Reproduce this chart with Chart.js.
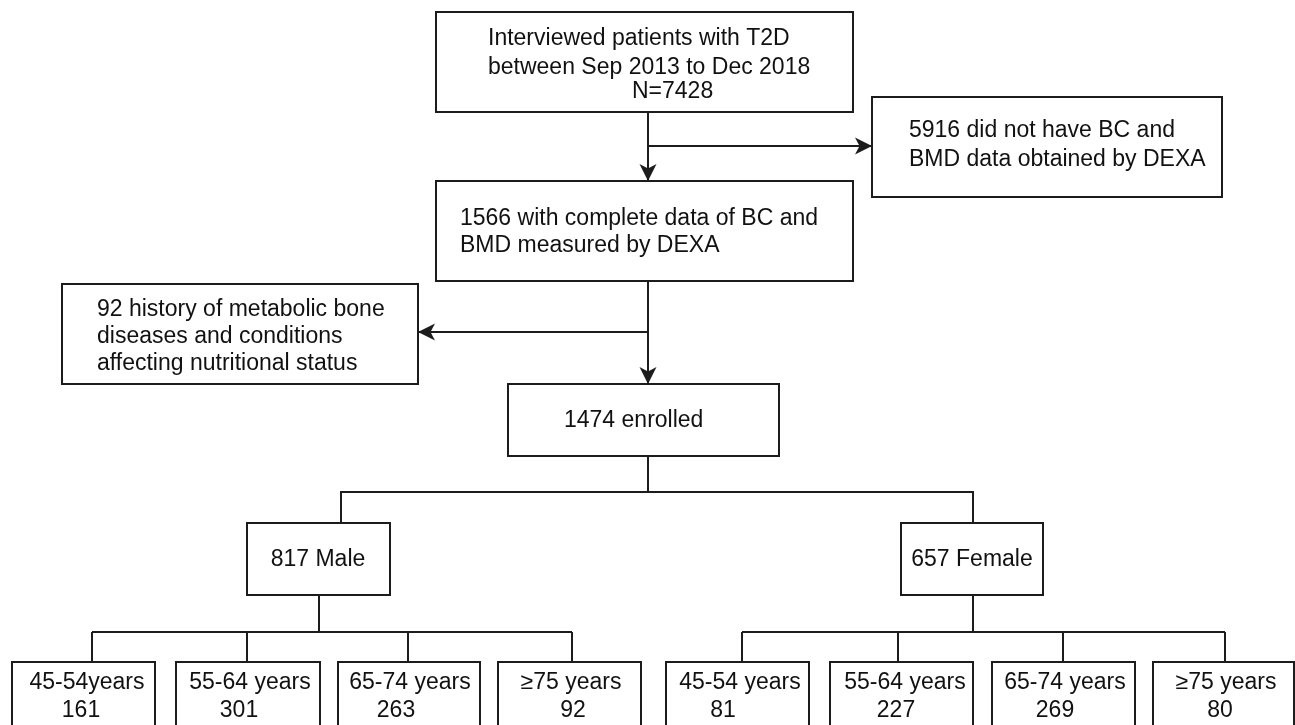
<!DOCTYPE html>
<html>
<head>
<meta charset="utf-8">
<script src="https://cdn.jsdelivr.net/npm/chart.js@4.4.1/dist/chart.umd.min.js"></script>
<style>
  html, body { margin: 0; padding: 0; background: #fff; }
  canvas { display: block; }
</style>
</head>
<body>
<canvas id="fluxo" width="1295" height="725"></canvas>
<script>
// counts
const screened = 7428;
const noDexa = 5916;
const withDexa = 1566;
const excluded = 92;
const enrolled = 1474;

const sexLabels = ['Male', 'Female'];
const sexCounts = [817, 657];

const maleAgeLabels = ['45-54years', '55-64 years', '65-74 years', '\u226575 years'];
const maleAgeCounts = [161, 301, 263, 92];
const femaleAgeLabels = ['45-54 years', '55-64 years', '65-74 years', '\u226575 years'];
const femaleAgeCounts = [81, 227, 269, 80];

const W = 1295, H = 725;
const FONT = '23px "Liberation Sans", Arial, Helvetica, sans-serif';
const INK = '#1c1c1c';

// layout (diagram units == pixels): boxes and text baselines
const maleAgeX = [[12, 155], [176, 320], [338, 480], [498, 641]];
const femaleAgeX = [[666, 809], [830, 973], [992, 1135], [1153, 1294]];
const maleAgeTextX = [[87, 81], [250, 239], [410, 396], [571, 573]];
const femaleAgeTextX = [[740, 723], [905, 896], [1065, 1055], [1226, 1220]];

function montarCaixas() {
  const caixas = [
    { r: [436, 12, 853, 112], lines: [
      { t: 'Interviewed patients with T2D', x: 488, y: 45 },
      { t: 'between Sep 2013 to Dec 2018', x: 488, y: 74 },
      { t: 'N=' + screened, x: 632, y: 98 } ] },
    { r: [872, 97, 1222, 197], lines: [
      { t: noDexa + ' did not have BC and', x: 909, y: 137 },
      { t: 'BMD data obtained by DEXA', x: 909, y: 166 } ] },
    { r: [436, 181, 853, 281], lines: [
      { t: withDexa + ' with complete data of BC and', x: 460, y: 225 },
      { t: 'BMD measured by DEXA', x: 460, y: 252 } ] },
    { r: [62, 284, 418, 384], lines: [
      { t: excluded + ' history of metabolic bone', x: 97, y: 316 },
      { t: 'diseases and conditions', x: 97, y: 343 },
      { t: 'affecting nutritional status', x: 97, y: 370 } ] },
    { r: [508, 384, 779, 456], lines: [
      { t: enrolled + ' enrolled', x: 564, y: 427 } ] },
    { r: [247, 523, 390, 595], lines: [
      { t: sexCounts[0] + ' ' + sexLabels[0], x: 318, y: 566, c: true } ] },
    { r: [901, 523, 1043, 595], lines: [
      { t: sexCounts[1] + ' ' + sexLabels[1], x: 972, y: 566, c: true } ] }
  ];
  maleAgeLabels.forEach((lab, i) => {
    caixas.push({ r: [maleAgeX[i][0], 662, maleAgeX[i][1], 745], lines: [
      { t: lab, x: maleAgeTextX[i][0], y: 689, c: true },
      { t: String(maleAgeCounts[i]), x: maleAgeTextX[i][1], y: 717, c: true } ] });
  });
  femaleAgeLabels.forEach((lab, i) => {
    caixas.push({ r: [femaleAgeX[i][0], 662, femaleAgeX[i][1], 745], lines: [
      { t: lab, x: femaleAgeTextX[i][0], y: 689, c: true },
      { t: String(femaleAgeCounts[i]), x: femaleAgeTextX[i][1], y: 717, c: true } ] });
  });
  return caixas;
}

// connector polylines
function montarLigacoes() {
  const lig = [
    [[648, 112], [648, 181]],
    [[648, 146], [872, 146]],
    [[648, 281], [648, 384]],
    [[648, 332], [418, 332]],
    [[648, 456], [648, 492]],
    [[341, 523], [341, 492], [973, 492], [973, 523]],
    [[319, 595], [319, 632]],
    [[973, 595], [973, 632]],
    [[92, 632], [572, 632]],
    [[742, 632], [1225, 632]]
  ];
  [92, 247, 408, 572, 742, 898, 1063, 1225].forEach(x => lig.push([[x, 632], [x, 662]]));
  return lig;
}

// arrow tips: [x, y, direction]
const setas = [[648, 181, 'down'], [872, 146, 'right'], [648, 384, 'down'], [418, 332, 'left']];

const caixas = montarCaixas();
const ligacoes = montarLigacoes();

const fundoBranco = {
  id: 'fundoBranco',
  beforeDraw(chart) {
    const ctx = chart.ctx;
    ctx.save();
    ctx.fillStyle = '#fff';
    ctx.fillRect(0, 0, chart.width, chart.height);
    ctx.restore();
  }
};

const desenhaFluxo = {
  id: 'desenhaFluxo',
  afterDatasetsDraw(chart) {
    const ctx = chart.ctx;
    const xs = chart.scales.x, ys = chart.scales.y;
    const px = v => xs.getPixelForValue(v);
    const py = v => ys.getPixelForValue(v);
    ctx.save();

    // caixas
    ctx.strokeStyle = INK;
    ctx.lineWidth = 2;
    caixas.forEach(cx => {
      const [x0, y0, x1, y1] = cx.r;
      ctx.fillStyle = '#fff';
      ctx.fillRect(px(x0), py(y0), px(x1) - px(x0), py(y1) - py(y0));
      ctx.strokeRect(px(x0), py(y0), px(x1) - px(x0), py(y1) - py(y0));
    });

    // textos
    ctx.fillStyle = '#111';
    ctx.font = FONT;
    ctx.textBaseline = 'alphabetic';
    caixas.forEach(cx => {
      cx.lines.forEach(l => {
        ctx.textAlign = l.c ? 'center' : 'left';
        ctx.fillText(l.t, px(l.x), py(l.y));
      });
    });

    // setas
    ctx.fillStyle = INK;
    setas.forEach(([x, y, dir]) => {
      const tx = px(x), ty = py(y);
      const L = 17, hw = 8.5, notch = 4.5;
      const ang = { down: Math.PI / 2, right: 0, left: Math.PI, up: -Math.PI / 2 }[dir];
      ctx.save();
      ctx.translate(tx, ty);
      ctx.rotate(ang);
      ctx.beginPath();
      ctx.moveTo(0, 0);
      ctx.lineTo(-L, -hw);
      ctx.lineTo(-L + notch, 0);
      ctx.lineTo(-L, hw);
      ctx.closePath();
      ctx.fill();
      ctx.restore();
    });
    ctx.restore();
  }
};

new Chart(document.getElementById('fluxo'), {
  type: 'scatter',
  data: {
    datasets: ligacoes.map(pts => ({
      data: pts.map(p => ({ x: p[0], y: p[1] })),
      showLine: true,
      borderColor: INK,
      borderWidth: 2,
      pointRadius: 0,
      fill: false,
      tension: 0
    }))
  },
  options: {
    responsive: false,
    animation: false,
    devicePixelRatio: 1,
    layout: { padding: 0 },
    events: [],
    plugins: { legend: { display: false }, tooltip: { enabled: false } },
    scales: {
      x: { type: 'linear', min: 0, max: W, display: false },
      y: { type: 'linear', min: 0, max: H, reverse: true, display: false }
    }
  },
  plugins: [fundoBranco, desenhaFluxo]
});
</script>
</body>
</html>
